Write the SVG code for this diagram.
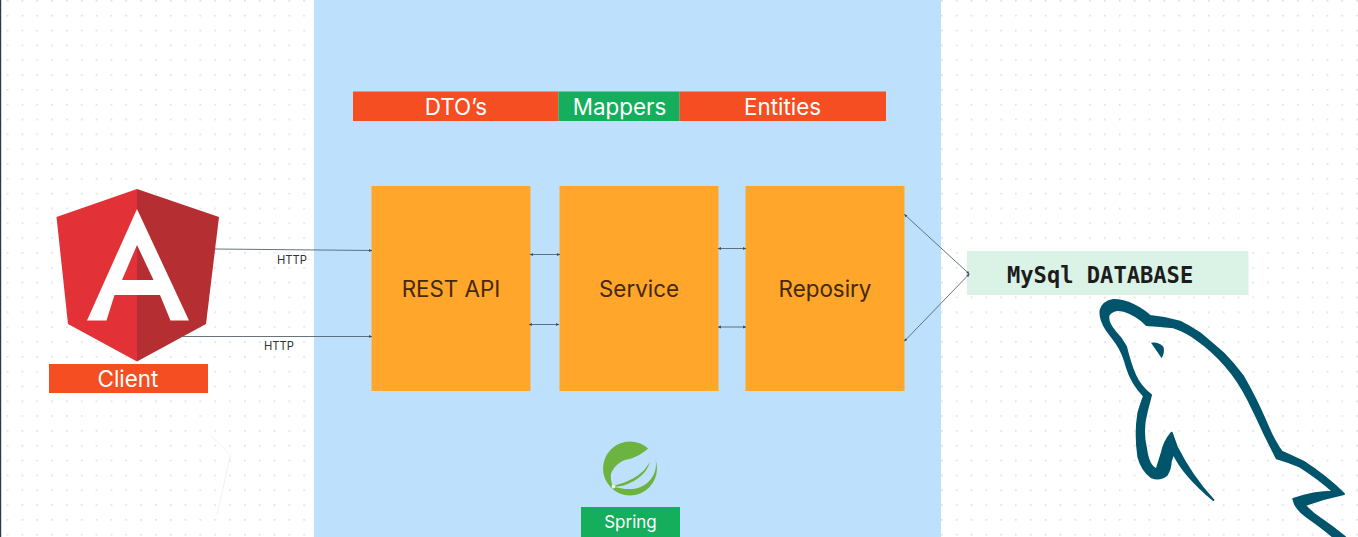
<svg xmlns="http://www.w3.org/2000/svg" width="1358" height="537" viewBox="0 0 1358 537">
<defs>
<pattern id="dots" x="6.700" y="0" width="14.83" height="14.83" patternUnits="userSpaceOnUse"><rect width="1.600" height="1.600" fill="#dcdcdc"/></pattern>
<marker id="arr" viewBox="0 0 6 6" refX="5.500" refY="3" markerWidth="3.500" markerHeight="3.500" orient="auto-start-reverse" markerUnits="userSpaceOnUse"><path d="M0.500 0.500L5.500 3L0.500 5.500Z" fill="#3a4a55"/></marker>
</defs>
<style>
text{font-family:Inter,"Liberation Sans",sans-serif}
.box{fill:#ffa62b}
.red{fill:#f44e22}
.grn{fill:#15ae5c}
.w{fill:#fff;font-size:22.400px;text-anchor:middle}
.d{fill:#43290a;font-size:22.400px;text-anchor:middle}
.h{fill:#333;font-size:11.200px}
.c{fill:none;stroke:#56646e;stroke-width:.9}
.two{marker-start:url(#arr);marker-end:url(#arr)}
.one{marker-end:url(#arr)}
</style>
<rect width="1358" height="537" fill="#fff"/>
<rect width="1358" height="537" fill="url(#dots)"/>
<rect x="0" y="0" width="1.200" height="537" fill="#2c3a47"/>
<rect x="314" y="0" width="627" height="537" fill="#bde1fd"/>
<path d="M210 435L230.500 455L217 515" fill="none" stroke="#eeeef0" stroke-width=".8"/>

<g id="client">
<path d="M137 189L56.500 217L68 324L137 361.500Z" fill="#e23237"/>
<path d="M137 189L219 217L206 324L137 361.500Z" fill="#b52e31"/>
<path fill="#fff" fill-rule="evenodd" d="M137 209L87 320.500H106.500L114.500 295H160L170.500 320.500H189ZM137 245L153.500 280H122Z"/>
<rect class="red" x="49" y="364" width="159" height="29"/>
<text class="w" x="128" y="386.500">Client</text>
</g>

<g id="bar">
<rect class="red" x="353" y="91.500" width="205.500" height="29.500"/>
<rect class="grn" x="558.500" y="91.500" width="121" height="29.500"/>
<rect class="red" x="679.500" y="91.500" width="206.500" height="29.500"/>
<text class="w" x="456" y="114.500">DTO’s</text>
<text class="w" x="619.500" y="114.500">Mappers</text>
<text class="w" x="782.500" y="114.500">Entities</text>
</g>

<g id="rest"><rect class="box" x="371.500" y="186" width="159" height="205"/><text class="d" x="451" y="297">REST API</text></g>
<g id="service"><rect class="box" x="559.500" y="186" width="159" height="205"/><text class="d" x="639" y="297">Service</text></g>
<g id="repo"><rect class="box" x="745.500" y="186" width="159" height="205"/><text class="d" x="825" y="297">Reposiry</text></g>

<g id="spring">
<circle cx="630" cy="468.500" r="27" fill="#6db33f"/>
<path fill="#bde1fd" d="M651.500 445C653 448 656.500 456 656 466C655 477 647 486 636 488.500C628 490 620 488.500 613 486.500C611 482 610.500 478 611 474C613 468 618 462.500 625 460C634 458.500 645 453 651.500 445Z"/>
<path fill="#6db33f" d="M613 486C626 482.500 642 477 650 461.500C647 473 637 481 625 485C620 486.500 616 487 613 486Z"/>
<circle cx="613.500" cy="486.500" r="2" fill="#e8f5d8"/>
<rect class="grn" x="581" y="507" width="99" height="30"/>
<text x="630.500" y="527.500" fill="#fff" font-size="17" text-anchor="middle">Spring</text>
</g>

<g id="database">
<rect x="967" y="251" width="281.500" height="44" fill="#dbf2e6"/>
<text x="1007" y="282.500" fill="#1c1c1c" font-size="22.100" font-weight="700" style="font-family:'DejaVu Sans Mono',monospace">MySql DATABASE</text>
</g>

<g id="dolphin">
<g transform="translate(890 200) scale(.33333)" fill="#00546b" stroke="#00546b" stroke-width="6" stroke-linejoin="round">
<path d="M1362 882Q1310 830 1240 785Q1205 768 1175 755Q1150 720 1125 660Q1100 600 1060 530Q1030 490 1000 460Q960 425 930 400Q900 380 870 365Q825 352 780 348Q760 330 730 315Q700 300 670 300Q640 305 632 330Q628 355 650 390L680 430Q700 460 710 500Q725 550 762 588Q750 620 745 640Q735 700 745 770Q755 810 785 832Q810 842 830 825Q842 805 842 785L850 760Q880 825 970 900Q905 830 860 740L845 698Q822 725 815 760L800 808Q775 800 768 745Q755 690 770 635L783 585Q750 560 735 525Q720 490 708 440Q695 415 675 395Q650 365 656 345Q670 325 700 332Q740 345 770 375Q810 378 850 382Q890 395 925 422Q965 450 1005 495Q1045 540 1075 600Q1100 650 1125 705L1160 775Q1195 785 1230 800Q1285 835 1330 875Q1270 875 1210 897Q1215 925 1250 950Q1300 985 1330 1011H1365Q1320 975 1290 955Q1260 935 1245 915Q1300 895 1362 882Z"/>
<path stroke="none" d="M783 428Q805 425 820 440Q826 455 815 475Q802 455 783 428Z"/>
</g>
</g>

<g id="connectors">
<path class="c one" d="M215 249L372 250.500"/>
<path class="c one" d="M181 336.500H372"/>
<path class="c two" d="M530 254.500H560"/>
<path class="c two" d="M529 324.500H559"/>
<path class="c two" d="M718 248.500H746"/>
<path class="c two" d="M718 327H746"/>
<path class="c two" d="M904.300 214.300L969.300 274"/>
<path class="c two" d="M969.300 274L904.300 341.300"/>
</g>
<text class="h" x="277" y="264">HTTP</text>
<text class="h" x="264" y="349.500">HTTP</text>
</svg>
